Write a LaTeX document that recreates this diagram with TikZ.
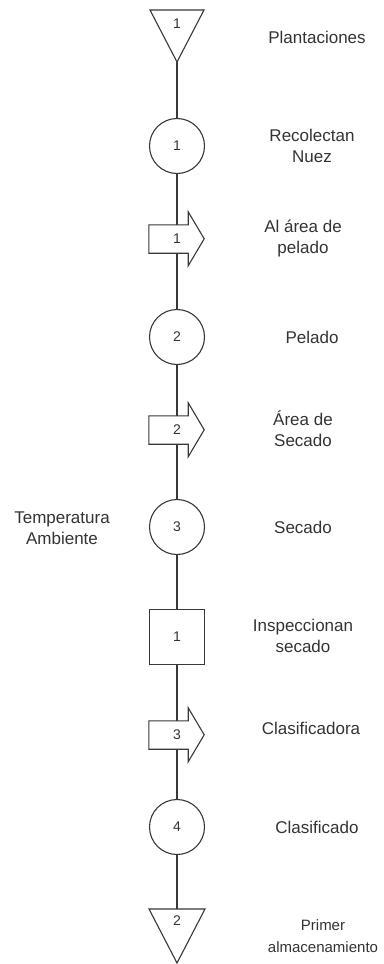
\documentclass[tikz,border=0pt]{standalone}
\usepackage{fontspec}
\setmainfont{Liberation Sans}
\begin{document}
\begin{tikzpicture}[x=1pt,y=-1pt,
  every node/.style={text=black!80},
  shapeline/.style={draw=black!78, line width=1.1pt, fill=white},
  link/.style={draw=black!78, line width=1.1pt},
  opcircle/.style={shapeline, circle, minimum size=55pt, inner sep=0pt, font=\fontsize{14}{16}\selectfont},
  opsquare/.style={shapeline, rectangle, minimum size=55pt, inner sep=0pt, font=\fontsize{14}{16}\selectfont},
  shaft/.style={rectangle, minimum width=39pt, minimum height=28pt, inner sep=0pt},
  numlabel/.style={font=\fontsize{14}{16}\selectfont, inner sep=0pt},
  desc/.style={align=center, font=\fontsize{17}{21}\selectfont, inner sep=0pt},
  smalldesc/.style={align=center, font=\fontsize{15}{22}\selectfont, inner sep=0pt}]
\useasboundingbox (0,0) rectangle (383,964);

% transport arrow: shaft node plus arrow head drawn from its anchors
\newcommand\transport[3]{%
  \node[shaft] (#1) at (168.5,#2) {};
  \draw[shapeline, line join=miter]
    (#1.north west) -- (#1.north east) -- ++(0,-13) -- ++(16,27) -- ++(-16,27)
    -- (#1.south east) -- (#1.south west) -- cycle;
  \node[numlabel] at (177,#2) {#3};
}

% storage triangle at the top
\coordinate (t1l) at (150,10);
\coordinate (t1r) at (204,10);
\coordinate (t1a) at (177,62);
\draw[shapeline, line join=miter] (t1l) -- (t1r) -- (t1a) -- cycle;
\node[numlabel] (t1) at (177,24) {1};

% operations, transports and inspection
\node[opcircle] (c1) at (177,146) {1};
\transport{a1}{239}{1}
\node[opcircle] (c2) at (177,337) {2};
\transport{a2}{430}{2}
\node[opcircle] (c3) at (177,527) {3};
\node[opsquare] (s1) at (177,637) {1};
\transport{a3}{735}{3}
\node[opcircle] (c4) at (177,827) {4};

% storage triangle at the bottom
\coordinate (t2l) at (149,909);
\coordinate (t2r) at (205,909);
\coordinate (t2a) at (177,963);
\coordinate (t2m) at (177,909);
\draw[shapeline, line join=miter] (t2l) -- (t2r) -- (t2a) -- cycle;
\node[numlabel] (t2) at (177,921) {2};

% vertical flow line
\draw[link] (t1a) -- (c1.north);
\draw[link] (c1.south) -- (c1 |- a1.north);
\draw[link] (c1 |- a1.south) -- (c2.north);
\draw[link] (c2.south) -- (c2 |- a2.north);
\draw[link] (c2 |- a2.south) -- (c3.north);
\draw[link] (c3.south) -- (s1.north);
\draw[link] (s1.south) -- (s1 |- a3.north);
\draw[link] (s1 |- a3.south) -- (c4.north);
\draw[link] (c4.south) -- (t2m);

% descriptions
\node[desc] (d1) at (317,37) {Plantaciones};
\node[desc] (d2) at (312,146) {Recolectan\\Nuez};
\node[desc] (d3) at (303,239) {Al área de\\pelado};
\node[desc] (d4) at (312,337) {Pelado};
\node[desc] (d5) at (303,429) {Área de\\Secado};
\node[desc] (d6) at (303,527) {Secado};
\node[desc] (d7) at (303,636) {Inspeccionan\\secado};
\node[desc] (d8) at (311,728) {Clasificadora};
\node[desc] (d9) at (317,827) {Clasificado};
\node[smalldesc] (d10) at (323,936) {Primer\\almacenamiento};
\node[desc] (d11) at (62,528) {Temperatura\\Ambiente};
\end{tikzpicture}
\end{document}
